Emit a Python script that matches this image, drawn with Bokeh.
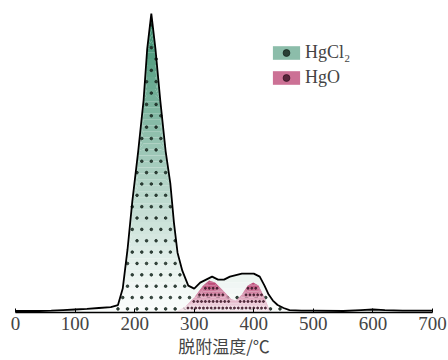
import numpy as np
from bokeh.plotting import figure
from bokeh.models import Legend, LegendItem, Range1d
from bokeh.embed import file_html
from bokeh.resources import INLINE

# desorption temperature (°C) and total signal (outline curve)
temp = [0, 20, 40, 60, 80, 100, 120, 140, 160, 172, 180, 188, 196, 206, 215, 221, 228,
        235, 243, 252, 260, 266, 272, 280, 290, 300, 310, 320, 330, 340, 350, 360, 370,
        380, 390, 400, 410, 418, 425, 432, 440, 450, 460, 480, 500, 550, 580, 600, 620,
        650, 700]
total = [0.5, 0.5, 0.5, 0.6, 0.8, 1.0, 1.2, 1.5, 1.8, 2.5, 8, 21, 37, 54, 71, 88, 100,
         88, 71, 54, 43, 30, 20, 14, 9, 8, 10, 11, 12, 11, 11, 12, 12.5,
         13, 13, 13, 12, 9, 6, 4, 2.5, 1.5, 0.8, 0.6, 0.6, 0.5, 0.8, 1.0, 0.8,
         0.6, 0.6]

# HgO component
hgo_temp = [268, 285, 300, 315, 325, 335, 350, 362, 370, 380, 390, 399, 408, 418, 428]
hgo = [0, 2, 5, 9, 10.7, 10, 7, 4.5, 4, 6, 9, 10, 9, 5, 0]

x_ticks = [0, 100, 200, 300, 400, 500, 600, 700]
x_label = "脱附温度/℃"
names = ["HgCl₂", "HgO"]

green = (50, 138, 104)
pink = (178, 40, 95)


def mix(c, t):
    t = max(0.0, min(1.0, t))
    return "#%02x%02x%02x" % tuple(int(round(255 + (ci - 255) * t)) for ci in c)


def dot_texture(xs, ys, dx, dy, x0, x1, ymin, tail_x=None, tail_ymax=None):
    """Regular dotted texture restricted to the area under a curve."""
    px, py = [], []
    row = 0
    yy = ymin
    while yy < max(ys):
        off = (dx / 2) * (row % 2)
        for xx in np.arange(x0 + off, x1, dx):
            if tail_x is not None and xx > tail_x and yy > tail_ymax:
                continue
            if yy < np.interp(xx, xs, ys) - 0.8:
                px.append(xx)
                py.append(yy)
        yy += dy
        row += 1
    return px, py


p = figure(width=448, height=360, output_backend="svg", toolbar_location=None,
           x_range=Range1d(0, 700), y_range=Range1d(0, 102.7), y_axis_type=None,
           min_border_left=15, min_border_right=16, min_border_top=5, min_border_bottom=48)
p.outline_line_color = None
p.grid.visible = False
p.background_fill_color = "white"

tot = np.array(total, dtype=float)
levels = np.linspace(0, 101, 51)
green_bands = []
for lo, hi in zip(levels[:-1], levels[1:]):
    t = ((lo + hi) / 2 / 100.0) ** 1.2
    r = p.varea(x=temp, y1=np.minimum(tot, lo), y2=np.minimum(tot, hi),
                fill_color=mix(green, t * 0.97 + 0.02))
    green_bands.append(r)

gx, gy = dot_texture(temp, total, 16, 3.8, 172, 460, 1.2, tail_x=284, tail_ymax=5)
green_dots = p.scatter(gx, gy, size=2.6, color="#1a2a22", alpha=0.85)

hg = np.array(hgo, dtype=float)
plev = np.linspace(0, 11, 23)
pink_bands = []
for lo, hi in zip(plev[:-1], plev[1:]):
    t = ((lo + hi) / 2 / 11.0) ** 1.1
    r = p.varea(x=hgo_temp, y1=np.minimum(hg, lo), y2=np.minimum(hg, hi),
                fill_color=mix(pink, t * 0.9 + 0.05))
    pink_bands.append(r)

hx, hy = dot_texture(hgo_temp, hgo, 6.5, 2.2, 270, 428, 1.5)
pink_dots = p.scatter(hx, hy, size=2.0, color="#3a1424", alpha=0.8)

p.line(temp, total, line_color="black", line_width=1.8)

legend = Legend(items=[
    LegendItem(label=names[0], renderers=[green_bands[30], green_dots]),
    LegendItem(label=names[1], renderers=[pink_bands[15], pink_dots]),
], location=(254, 224), orientation="vertical")
legend.border_line_color = None
legend.background_fill_alpha = 0
legend.padding = 0
legend.spacing = 4
legend.margin = 0
legend.glyph_width = 34
legend.glyph_height = 17
legend.label_height = 18
legend.label_standoff = 2
legend.label_text_font = "Liberation Serif"
legend.label_text_font_size = "18px"
p.add_layout(legend)

ax = p.xaxis[0]
ax.ticker = x_ticks
ax.axis_label = x_label
ax.axis_label_text_font = "Noto Sans CJK SC"
ax.axis_label_text_font_size = "17px"
ax.axis_label_text_font_style = "normal"
ax.axis_label_standoff = 0
ax.major_label_text_font = "Liberation Serif"
ax.major_label_text_font_size = "19px"
ax.major_label_standoff = 4
ax.major_tick_in = 4
ax.major_tick_out = 0
ax.minor_tick_line_color = None
ax.axis_line_width = 1.5
ax.axis_line_color = "black"
ax.major_tick_line_color = "black"

open("out.html", "w").write(file_html(p, INLINE))
